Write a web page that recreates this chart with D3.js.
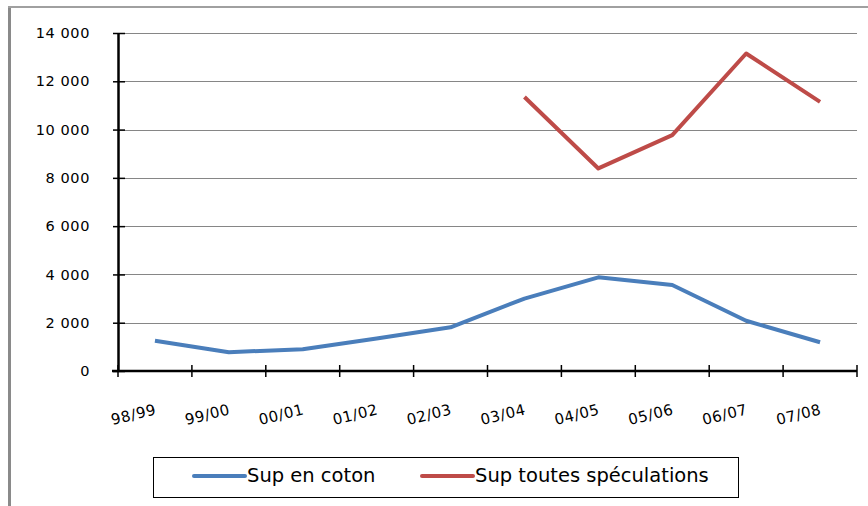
<!DOCTYPE html>
<meta charset="utf-8">
<script src="https://cdn.jsdelivr.net/npm/d3@7"></script>
<style>
body { margin: 0; background: #fff; }
text { font-family: "DejaVu Sans", sans-serif; fill: #000; }
.grid line { stroke: #868686; stroke-width: 1px; }
</style>
<body>
<script>

// data
var seasons = ["98/99", "99/00", "00/01", "01/02", "02/03", "03/04", "04/05", "05/06", "06/07", "07/08"];
var supCoton = [1250, 780, 900, 1350, 1810, 3000, 3880, 3560, 2080, 1190];
var supToutes = [null, null, null, null, null, 11350, 8390, 9770, 13150, 11150];
var yTicks = [0, 2000, 4000, 6000, 8000, 10000, 12000, 14000];

var width = 868, height = 506;
var plotLeft = 118, plotRight = 857, plotTop = 33, plotBottom = 371;

var svg = d3.select("body").append("svg")
    .attr("width", width)
    .attr("height", height);

// outer frame (left + top edges only visible)
svg.append("line").attr("x1", 9.5).attr("x2", 9.5).attr("y1", 6).attr("y2", height)
    .attr("stroke", "#8a8a8a").attr("stroke-width", 3);
svg.append("line").attr("x1", 8).attr("x2", width).attr("y1", 7).attr("y2", 7)
    .attr("stroke", "#a0a0a0").attr("stroke-width", 2);

var x = d3.scaleBand().domain(seasons).range([plotLeft, plotRight]);
var y = d3.scaleLinear().domain([0, 14000]).range([plotBottom, plotTop]);

var fmt = function(d) { return d3.format(",")(d).replace(",", " "); };

// gridlines
svg.append("g").attr("class", "grid")
  .selectAll("line")
  .data(yTicks.filter(function(d) { return d > 0; }))
  .enter().append("line")
    .attr("x1", plotLeft).attr("x2", plotRight)
    .attr("y1", function(d) { return Math.round(y(d)) + 0.5; })
    .attr("y2", function(d) { return Math.round(y(d)) + 0.5; });

// y axis
var yAxis = svg.append("g")
    .attr("transform", "translate(" + plotLeft + ",0)")
    .call(d3.axisLeft(y).tickValues(yTicks).tickFormat(fmt).tickSizeOuter(0).tickSizeInner(5));
yAxis.select(".domain").attr("stroke", "#000").attr("stroke-width", 2.5);
yAxis.selectAll(".tick line").attr("stroke", "#000").attr("stroke-width", 1.5).attr("x2", 7).attr("x1", -5);
yAxis.selectAll(".tick text").attr("x", -28).attr("font-size", 14.5)
    .attr("font-family", "DejaVu Sans").attr("letter-spacing", 0.6);

// x axis
var xAxis = svg.append("g")
    .attr("transform", "translate(0," + plotBottom + ")");
xAxis.append("line").attr("x1", plotLeft - 6).attr("x2", plotRight).attr("y1", 0).attr("y2", 0)
    .attr("stroke", "#000").attr("stroke-width", 2.5);
var edges = seasons.map(function(s) { return x(s); }).concat([plotRight]);
xAxis.selectAll(".xt").data(edges).enter().append("line")
    .attr("x1", function(d) { return d; }).attr("x2", function(d) { return d; })
    .attr("y1", -6).attr("y2", 6)
    .attr("stroke", "#000").attr("stroke-width", 1.5);
xAxis.selectAll(".xl").data(seasons).enter().append("text")
    .attr("transform", function(d) {
      return "translate(" + (x(d) + x.bandwidth() / 2 + 2) + ",43) rotate(-14)";
    })
    .attr("text-anchor", "end")
    .attr("font-size", 15)
    .attr("letter-spacing", 0.5)
    .text(function(d) { return d; });

// lines
var line = d3.line()
    .defined(function(d) { return d.v != null; })
    .x(function(d) { return x(d.s) + x.bandwidth() / 2; })
    .y(function(d) { return y(d.v); });

function series(vals) {
  return seasons.map(function(s, i) { return {s: s, v: vals[i]}; });
}

svg.append("path").datum(series(supCoton))
    .attr("d", line)
    .attr("fill", "none").attr("stroke", "#4a7ebb").attr("stroke-width", 4)
    .attr("stroke-linejoin", "round");
svg.append("path").datum(series(supToutes))
    .attr("d", line)
    .attr("fill", "none").attr("stroke", "#be4b48").attr("stroke-width", 4)
    .attr("stroke-linejoin", "round");

// legend
var legend = svg.append("g");
legend.append("rect").attr("x", 153.5).attr("y", 457.5).attr("width", 585).attr("height", 40)
    .attr("fill", "#fff").attr("stroke", "#000").attr("stroke-width", 1);
var items = [
  {name: "Sup en coton", color: "#4a7ebb", x: 194},
  {name: "Sup toutes spéculations", color: "#be4b48", x: 422}
];
items.forEach(function(it) {
  legend.append("line").attr("x1", it.x).attr("x2", it.x + 51).attr("y1", 476).attr("y2", 476)
      .attr("stroke", it.color).attr("stroke-width", 4).attr("stroke-linecap", "round");
  legend.append("text").attr("x", it.x + 53).attr("y", 482)
      .attr("font-family", "Lato, sans-serif").attr("font-size", 19.5)
      .text(it.name);
});

</script>
</body>
